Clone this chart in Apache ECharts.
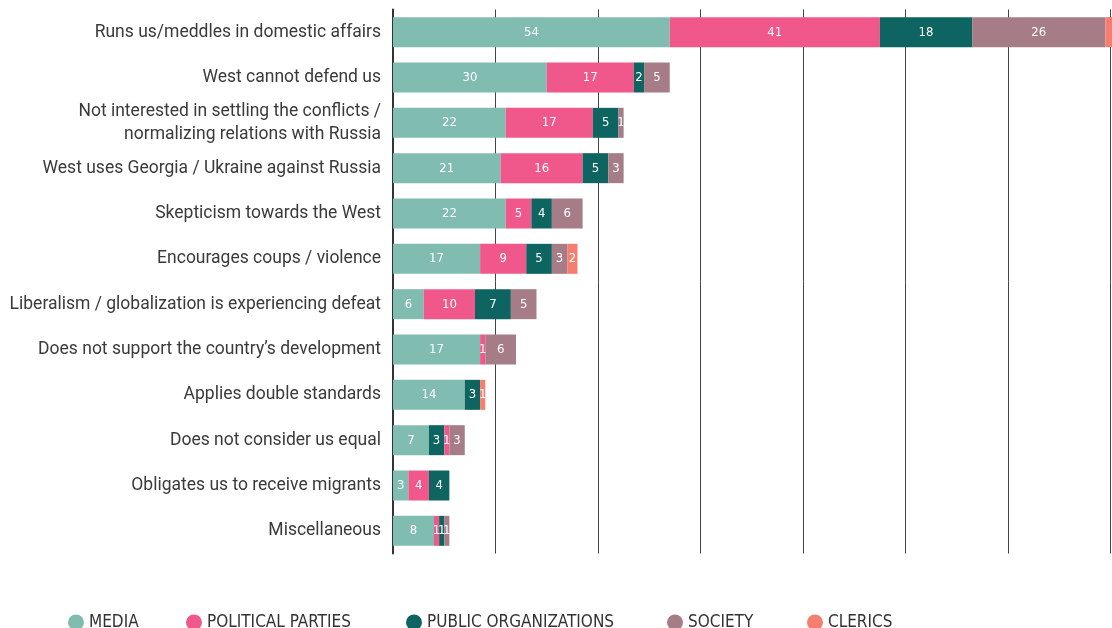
<!DOCTYPE html>
<html><head><meta charset="utf-8">
<script src="https://cdn.jsdelivr.net/npm/echarts@6/dist/echarts.min.js"></script>
<style>html,body{margin:0;padding:0;background:#fff;overflow:hidden}#c{width:1131px;height:628px}</style>
</head><body><div id="c"></div>
<script>
const categories = [
  'Runs us/meddles in domestic affairs',
  'West cannot defend us',
  'Not interested in settling the conflicts /\nnormalizing relations with Russia',
  'West uses Georgia / Ukraine against Russia',
  'Skepticism towards the West',
  'Encourages coups / violence',
  'Liberalism / globalization is experiencing defeat',
  'Does not support the country\u2019s development',
  'Applies double standards',
  'Does not consider us equal',
  'Obligates us to receive migrants',
  'Miscellaneous'
];
const media      = [54, 30, 22, 21, 22, 17, 6, 17, 14, 7, 3, 8];
const political  = [41, 17, 17, 16, 5, 9, 10, 1, null, null, 4, 1];
const publicOrgs = [18, 2, 5, 5, 4, 5, 7, null, 3, 3, 4, 1];
const politicalAfterOrgs = [null, null, null, null, null, null, null, null, null, 1, null, null];
const society    = [26, 5, 1, 3, 6, 3, 5, 6, null, 3, null, 1];
const clerics    = [5, null, null, null, null, 2, null, null, 1, null, null, null];
const legendNames = ['MEDIA', 'POLITICAL PARTIES', 'PUBLIC ORGANIZATIONS', 'SOCIETY', 'CLERICS'];

const colors = {
  'MEDIA': '#81bcb1',
  'POLITICAL PARTIES': '#f0578a',
  'PUBLIC ORGANIZATIONS': '#0e6461',
  'SOCIETY': '#a67d87',
  'CLERICS': '#f47e6f'
};
const condensed = '"DejaVu Sans Condensed", "Liberation Sans Narrow", "Roboto Condensed", sans-serif';
const labelStyle = {show: true, position: 'inside', color: '#fff', fontFamily: condensed, fontSize: 13};
function mk(name, data) {
  return {name, type: 'bar', stack: 'a', data, barWidth: 30,
    itemStyle: {color: colors[name]}, label: labelStyle, emphasis: {disabled: true}};
}
const legendLefts = [63, 181, 401, 662, 802];
const chart = echarts.init(document.getElementById('c'), null, {renderer: 'canvas'});
chart.setOption({
  animation: false,
  grid: {left: 393, right: 0, top: 9.5, bottom: 74.5, containLabel: false},
  xAxis: {type: 'value', min: 0, max: 144, interval: 20,
    axisLabel: {show: false}, axisLine: {show: false}, axisTick: {show: false},
    splitLine: {show: true, lineStyle: {color: '#444', width: 1}}},
  yAxis: {type: 'category', data: categories, inverse: true,
    axisLine: {show: true, lineStyle: {color: '#333', width: 2}},
    axisTick: {show: false},
    axisLabel: {color: '#3a3a3a', fontSize: 17.5, margin: 12, fontFamily: 'Roboto, sans-serif', lineHeight: 23, align: 'right'}},
  legend: legendNames.map((n, i) => ({
    data: [n], left: legendLefts[i], top: 609, icon: 'circle', itemWidth: 16, itemHeight: 16,
    textStyle: {color: '#333', fontSize: 17, fontFamily: condensed}
  })),
  series: [
    mk('MEDIA', media),
    mk('POLITICAL PARTIES', political),
    mk('PUBLIC ORGANIZATIONS', publicOrgs),
    mk('POLITICAL PARTIES', politicalAfterOrgs),
    mk('SOCIETY', society),
    mk('CLERICS', clerics)
  ]
});
</script></body></html>
